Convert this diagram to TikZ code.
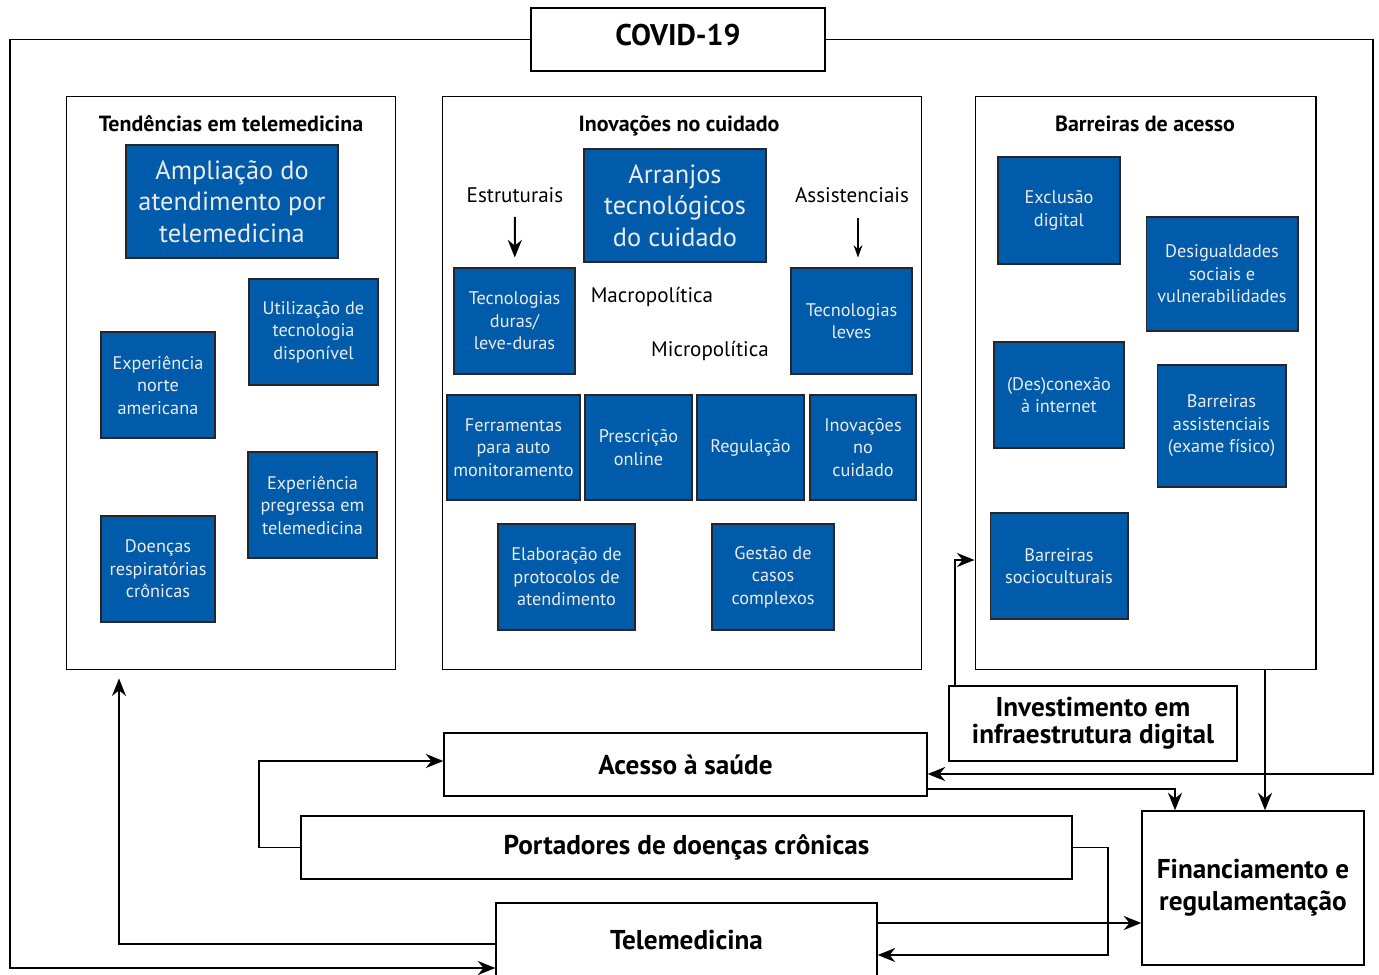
\documentclass[tikz,border=0pt]{standalone}
\usepackage{fontspec}
\setmainfont{PT Sans}
\usetikzlibrary{arrows.meta}
\definecolor{boxblue}{RGB}{0,91,170}

\tikzset{
  panel/.style 2 args={draw, line width=0.6pt, minimum width=#1, minimum height=#2, inner sep=0pt},
  bluebox/.style 2 args={draw=black!85, line width=0.6pt, fill=boxblue, text=white!92!black,
    minimum width=#1, minimum height=#2, inner sep=0pt, align=center,
    font=\fontsize{10.4}{12.8}\selectfont},
  bigblue/.style 2 args={bluebox={#1}{#2}, font=\fontsize{15}{17.9}\selectfont},
  bottombox/.style 2 args={draw, line width=0.8pt, fill=white, minimum width=#1, minimum height=#2,
    inner sep=0pt, align=center, font=\bfseries\fontsize{15.5}{15.4}\selectfont},
  paneltitle/.style={anchor=base, font=\bfseries\fontsize{12.5}{14}\selectfont},
  plain/.style={font=\fontsize{12}{14}\selectfont},
  conn/.style={line width=1.1pt, -{Stealth[length=10pt,width=8pt]}},
}

\begin{document}
\begin{tikzpicture}[x=0.02cm, y=-0.02cm]
\useasboundingbox (0,0) rectangle (1379,974);

% top
\node[bottombox={5.88cm}{1.26cm}, font=\bfseries\fontsize{17}{18}\selectfont, text depth=0.18cm] (covid) at (678,39.5) {COVID-19};

% the three panels
\node[panel={6.6cm}{11.48cm}] (tend) at (231,383) {};
\node[panel={9.6cm}{11.48cm}] (inov) at (682,383) {};
\node[panel={6.82cm}{11.48cm}] (barr) at (1145.5,383) {};

\node[paneltitle] (tendtitle) at (231,131) {Tendências em telemedicina};
\node[paneltitle] (inovtitle) at (679,131) {Inovações no cuidado};
\node[paneltitle] (barrtitle) at (1145,131) {Barreiras de acesso};

% Tendencias em telemedicina
\node[bigblue={4.24cm}{2.26cm}] (ampl) at (232,201.5) {Ampliação do\\atendimento por\\telemedicina};
\node[bluebox={2.58cm}{2.12cm}] (util) at (313.5,332) {Utilização de\\tecnologia\\disponível};
\node[bluebox={2.28cm}{2.12cm}] (expn) at (158,385) {Experiência\\norte\\americana};
\node[bluebox={2.58cm}{2.12cm}] (expp) at (312.5,505) {Experiência\\pregressa em\\telemedicina};
\node[bluebox={2.28cm}{2.12cm}] (doen) at (158,569) {Doenças\\respiratórias\\crônicas};

% Inovacoes no cuidado
\node[bigblue={3.64cm}{2.26cm}] (arr) at (675,205.5) {Arranjos\\tecnológicos\\do cuidado};
\node[plain] (estr) at (515,195) {Estruturais};
\node[plain] (assist) at (852,195) {Assistenciais};
\node[bluebox={2.42cm}{2.12cm}] (tdur) at (514.5,321) {Tecnologias\\duras/\\leve-duras};
\node[bluebox={2.42cm}{2.12cm}] (tlev) at (851.5,321) {Tecnologias\\leves};
\node[plain] (macro) at (652,297) {Macropolítica};
\node[plain] (micro) at (710,351) {Micropolítica};
\node[bluebox={2.66cm}{2.1cm}] (ferr) at (513.5,447.5) {Ferramentas\\para auto\\monitoramento};
\node[bluebox={2.14cm}{2.1cm}] (presc) at (638.5,447.5) {Prescrição\\online};
\node[bluebox={2.14cm}{2.1cm}] (regul) at (750.5,447.5) {Regulação};
\node[bluebox={2.12cm}{2.1cm}] (inovc) at (863,447.5) {Inovações\\no\\cuidado};
\node[bluebox={2.74cm}{2.12cm}] (elab) at (566.5,577) {Elaboração de\\protocolos de\\atendimento};
\node[bluebox={2.44cm}{2.12cm}] (gest) at (773,577) {Gestão de\\casos\\complexos};

\draw[conn, shorten <=0.16cm, shorten >=0.2cm] (estr) -- (tdur);
\draw[line width=0.6pt, -{Stealth[length=7pt,width=5pt]}, shorten <=0.18cm, shorten >=0.2cm] (assist.south -| 858,0) -- (tlev.north -| 858,0);

% Barreiras de acesso
\node[bluebox={2.44cm}{2.14cm}] (excl) at (1059,210.5) {Exclusão\\digital};
\node[bluebox={3.04cm}{2.28cm}] (desig) at (1222,274) {Desigualdades\\sociais e\\vulnerabilidades};
\node[bluebox={2.6cm}{2.12cm}] (desc) at (1059,395) {(Des)conexão\\à internet};
\node[bluebox={2.58cm}{2.44cm}] (bass) at (1221.5,426) {Barreiras\\assistenciais\\(exame físico)};
\node[bluebox={2.76cm}{2.12cm}] (bsoc) at (1059,566) {Barreiras\\socioculturais};

% bottom part
\node[bottombox={5.76cm}{1.5cm}] (invest) at (1093,723.5) {Investimento em\\infraestrutura digital};
\node[bottombox={9.66cm}{1.26cm}] (acesso) at (685.5,764.5) {Acesso à saúde};
\node[bottombox={15.42cm}{1.26cm}] (port) at (686.5,847.5) {Portadores de doenças crônicas};
\node[bottombox={7.62cm}{1.46cm}] (tele) at (686.5,939.5) {Telemedicina};
\node[bottombox={4.44cm}{3.08cm}, font=\bfseries\fontsize{15.5}{18}\selectfont] (fin) at (1253,888) {Financiamento e\\regulamentação};

% bends of the connectors
\coordinate (bl) at (10,968);
\coordinate (br) at (1373,774);
\coordinate (af) at (1175,789);
\coordinate (bf) at (1265,0);
\coordinate (ib) at (955,560);
\coordinate (pa) at (259,761);
\coordinate (pt) at (1108,955);
\coordinate (tf) at (1142,923);
\coordinate (tt) at (119,944);

\draw[conn] (covid.west) -| (bl) -- (tele.west |- bl);
\draw[conn] (covid.east) -| (br) -- (acesso.east |- br);
\draw[conn] (acesso.east |- af) -| (fin.north -| af);
\draw[conn] (barr.south -| bf) -- (fin.north -| bf);
\draw[conn] (invest.north -| ib) -- (ib) -- (barr.west |- ib);
\draw[conn] (port.west) -| (pa) -- (acesso.west |- pa);
\draw[conn] (port.east) -| (pt) -- (tele.east |- pt);
\draw[conn] (tele.east |- tf) -- (fin.west |- tf);
\draw[conn, {Stealth[length=10pt,width=8pt]}-, shorten <=0.16cm] (tend.south -| tt) -- (tt) -- (tele.west |- tt);

\end{tikzpicture}
\end{document}
